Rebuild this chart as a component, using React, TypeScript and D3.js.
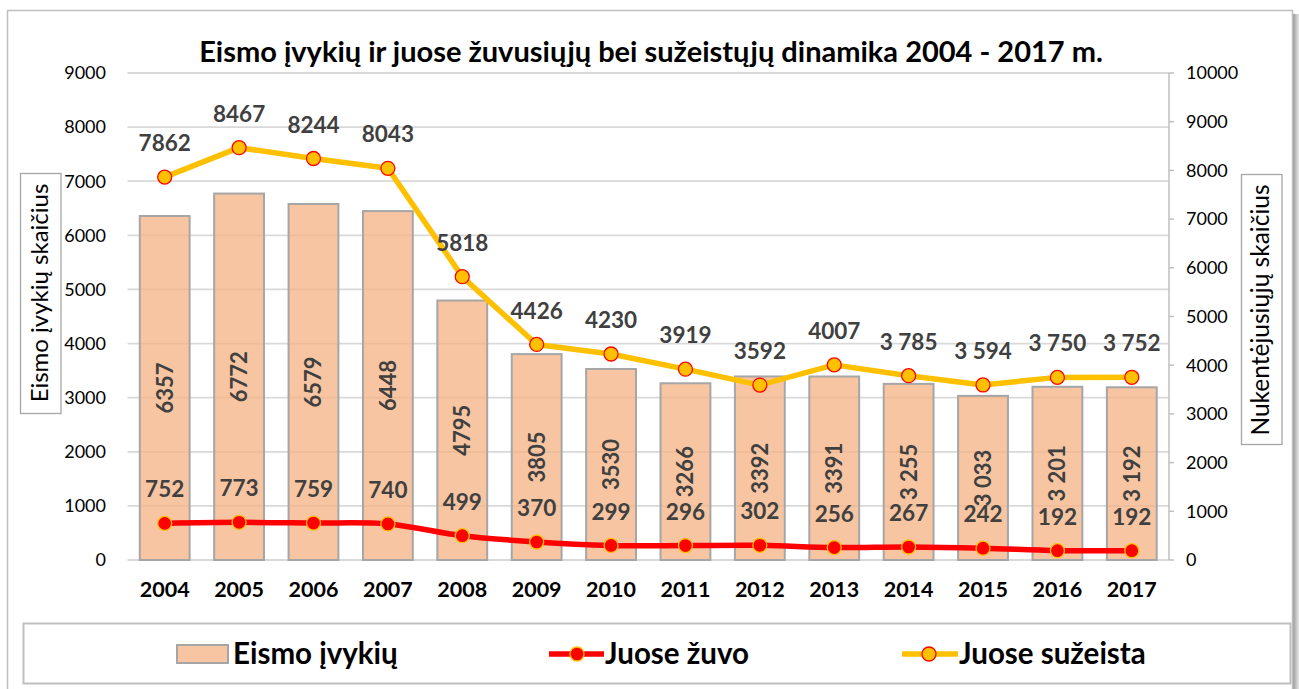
import React from "react";
import * as d3 from "d3";

const years = ["2004","2005","2006","2007","2008","2009","2010","2011","2012","2013","2014","2015","2016","2017"];
const accidents = [6357,6772,6579,6448,4795,3805,3530,3266,3392,3391,3255,3033,3201,3192];
const accidentLabels = ["6357","6772","6579","6448","4795","3805","3530","3266","3392","3391","3 255","3 033","3 201","3 192"];
const killed = [752,773,759,740,499,370,299,296,302,256,267,242,192,192];
const killedLabels = ["752","773","759","740","499","370","299","296","302","256","267","242","192","192"];
const injured = [7862,8467,8244,8043,5818,4426,4230,3919,3592,4007,3785,3594,3750,3752];
const injuredLabels = ["7862","8467","8244","8043","5818","4426","4230","3919","3592","4007","3 785","3 594","3 750","3 752"];
const leftTicks = [0,1000,2000,3000,4000,5000,6000,7000,8000,9000];
const rightTicks = [0,1000,2000,3000,4000,5000,6000,7000,8000,9000,10000];

const title = "Eismo įvykių ir juose žuvusiųjų bei sužeistųjų dinamika 2004 - 2017 m.";
const leftTitle = "Eismo įvykių skaičius";
const rightTitle = "Nukentėjusiųjų skaičius";
const legendNames = ["Eismo įvykių", "Juose žuvo", "Juose sužeista"];

const FONT = "Lato, 'Open Sans', sans-serif";
const YELLOW = "#ffc000";
const RED = "#ff0000";
const LABEL = "#404040";

export default function App() {
  const W = 1299, H = 689;
  const x0 = 127.5, x1 = 1169;
  const yTop = 73, yBot = 560;
  const x = d3.scaleBand<string>().domain(years).range([x0, x1]).paddingInner(0.33).paddingOuter(0.165);
  const xc = (y: string) => (x(y) as number) + x.bandwidth() / 2;
  const yL = d3.scaleLinear().domain([0, 9000]).range([yBot, yTop]);
  const yR = d3.scaleLinear().domain([0, 10000]).range([yBot, yTop]);

  const injuredLine = d3.line<number>().x((_, i) => xc(years[i])).y(d => yR(d));
  const killedLine = d3.line<number>().x((_, i) => xc(years[i])).y(d => yR(d)).curve(d3.curveCatmullRom.alpha(0.5));

  return (
    <div style={{ position: "absolute", left: 0, top: 0 }}>
      <svg width={W} height={H} style={{ display: "block", fontFamily: FONT }}>
        <defs>
          <linearGradient id="shadowR" x1="0" x2="1" y1="0" y2="0">
            <stop offset="0" stopColor="#9a9a9a" />
            <stop offset="1" stopColor="#e8e8e8" />
          </linearGradient>
        </defs>
        <rect x={0} y={0} width={W} height={H} fill="#fff" />
        {/* outer border + shadow */}
        <rect x={1293} y={14} width={6} height={H} fill="url(#shadowR)" />
        <rect x={7.5} y={10.5} width={1285} height={H} fill="#fff" stroke="#bfbfbf" strokeWidth={1.5} />

        {/* title */}
        <text x={651} y={62} textAnchor="middle" fontSize={29} fontWeight={700} fill="#000">{title}</text>

        {/* gridlines */}
        {leftTicks.map(t => (
          <line key={"g" + t} x1={x0} x2={x1} y1={yL(t)} y2={yL(t)} stroke="#d9d9d9" strokeWidth={1.8} />
        ))}

        {/* left tick labels */}
        {leftTicks.map(t => (
          <text key={"l" + t} x={106} y={yL(t) + 6.3} textAnchor="end" fontSize={18} fill="#000">{t}</text>
        ))}

        {/* right axis */}
        <line x1={x1} x2={x1} y1={yTop} y2={yBot} stroke="#bfbfbf" strokeWidth={1.5} />
        {rightTicks.map(t => (
          <g key={"r" + t}>
            <line x1={x1} x2={x1 + 5} y1={yR(t)} y2={yR(t)} stroke="#bfbfbf" strokeWidth={1.5} />
            <text x={1186} y={yR(t) + 6.3} fontSize={18} fill="#000">{t}</text>
          </g>
        ))}

        {/* bars */}
        {accidents.map((v, i) => (
          <rect key={"b" + i} x={x(years[i]) as number} y={yL(v)} width={x.bandwidth()} height={yBot - yL(v)}
            fill="#f4b183" fillOpacity={0.75} stroke="#a6a6a6" strokeWidth={2} />
        ))}

        {/* bar labels */}
        {accidents.map((v, i) => {
          const cx = xc(years[i]);
          const cy = (yL(v) + yBot) / 2;
          return (
            <text key={"bl" + i} transform={`translate(${cx},${cy}) rotate(-90)`} textAnchor="middle" dy="0.36em"
              fontSize={22} fontWeight={700} fill={LABEL}>{accidentLabels[i]}</text>
          );
        })}

        {/* x labels */}
        {years.map(y => (
          <text key={"x" + y} x={xc(y)} y={597} textAnchor="middle" fontSize={21.5} fontWeight={700} fill="#000">{y}</text>
        ))}

        {/* lines */}
        <path d={injuredLine(injured) || ""} fill="none" stroke={YELLOW} strokeWidth={5.5} strokeLinejoin="round" />
        <path d={killedLine(killed) || ""} fill="none" stroke={RED} strokeWidth={5.5} strokeLinejoin="round" />
        {injured.map((v, i) => (
          <circle key={"ip" + i} cx={xc(years[i])} cy={yR(v)} r={7} fill={YELLOW} stroke={RED} strokeWidth={1.3} />
        ))}
        {killed.map((v, i) => (
          <circle key={"kp" + i} cx={xc(years[i])} cy={yR(v)} r={7} fill={RED} stroke={YELLOW} strokeWidth={1.3} />
        ))}

        {/* line labels */}
        {injured.map((v, i) => (
          <text key={"il" + i} x={xc(years[i])} y={yR(v) - 34} dy="0.36em" textAnchor="middle" fontSize={22.5} fontWeight={700} fill={LABEL}>{injuredLabels[i]}</text>
        ))}
        {killed.map((v, i) => (
          <text key={"kl" + i} x={xc(years[i])} y={yR(v) - 34} dy="0.36em" textAnchor="middle" fontSize={22.5} fontWeight={700} fill={LABEL}>{killedLabels[i]}</text>
        ))}

        {/* axis titles */}
        <rect x={20.5} y={173.5} width={40.5} height={240} fill="#fff" stroke="#a6a6a6" strokeWidth={1.3} />
        <text transform={`translate(41,293) rotate(-90)`} textAnchor="middle" dy="0.3em" fontSize={24} fill="#000">{leftTitle}</text>
        <rect x={1241.5} y={174.5} width={40.5} height={270} fill="#fff" stroke="#a6a6a6" strokeWidth={1.3} />
        <text transform={`translate(1262,310) rotate(-90)`} textAnchor="middle" dy="0.3em" fontSize={24.5} fill="#000">{rightTitle}</text>

        {/* legend */}
        <rect x={23.5} y={623.5} width={1267} height={60} fill="#fff" stroke="#bfbfbf" strokeWidth={2} />
        <rect x={177} y={645} width={51} height={18} fill="#f4b183" fillOpacity={0.75} stroke="#a6a6a6" strokeWidth={2} />
        <text x={233} y={664} fontSize={29.5} fontWeight={700} fill="#000">{legendNames[0]}</text>
        <line x1={549} x2={604} y1={654} y2={654} stroke={RED} strokeWidth={5.5} />
        <circle cx={577} cy={654} r={7} fill={RED} stroke={YELLOW} strokeWidth={1.3} />
        <text x={605} y={664} fontSize={29.5} fontWeight={700} fill="#000">{legendNames[1]}</text>
        <line x1={902} x2={958} y1={654} y2={654} stroke={YELLOW} strokeWidth={5.5} />
        <circle cx={929} cy={654} r={7} fill={YELLOW} stroke={RED} strokeWidth={1.3} />
        <text x={959} y={664} fontSize={29.5} fontWeight={700} fill="#000">{legendNames[2]}</text>
      </svg>
    </div>
  );
}
